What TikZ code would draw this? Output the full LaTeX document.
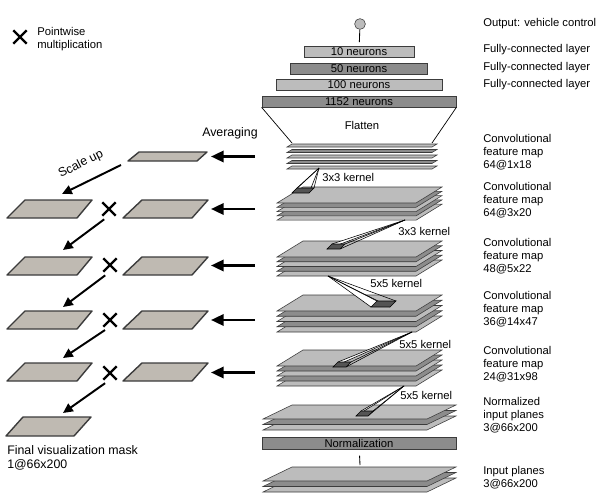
\documentclass[tikz,border=0pt]{standalone}
\usepackage{fontspec}
\setmainfont{Liberation Sans}
\usetikzlibrary{positioning,shapes.misc,arrows.meta}

\definecolor{lite}{HTML}{BCBCBC}
\definecolor{dark}{HTML}{8C8C8C}
\definecolor{maskgray}{HTML}{BFBAB2}
\definecolor{edge}{HTML}{3C3C3C}

\tikzset{
  bar/.style={shape=rectangle,draw=edge,line width=0.5pt,inner sep=0pt,minimum height=0.275cm},
  plane/.style={draw=edge,line width=0.4pt},
  kerncell/.style={fill=dark!60!black,draw=black,line width=0.4pt},
  kernline/.style={draw=black,line width=0.4pt},
  maskbox/.style={fill=maskgray,draw=edge,line width=1pt,line join=round},
  mult/.style={cross out,draw=black,line width=1.6pt,minimum size=0.28cm,inner sep=0pt},
  bigarrow/.style={line width=1.8pt,-{Triangle[length=9pt,width=8pt]}},
  scalearrow/.style={line width=1.4pt,-{Triangle[length=7pt,width=6.5pt]}},
  label/.style={anchor=north west,inner sep=0pt,align=left},
}

\begin{document}
\begin{tikzpicture}[x=0.025cm,y=-0.025cm,font=\fontsize{8}{9.25}\selectfont]
  \fill[white] (0,0) rectangle (600,500);
  \useasboundingbox (0,0) rectangle (600,500);

  % output and fully-connected layers
  \node[shape=circle,draw=edge,fill=lite,minimum size=0.27cm,inner sep=0pt] (out) at (360,24) {};
  \node[bar,fill=lite,minimum width=2.75cm] (fc10) at (359,52) {10 neurons};
  \node[bar,fill=dark,minimum width=3.425cm] (fc50) at (359,68.5) {50 neurons};
  \node[bar,fill=lite,minimum width=4.15cm] (fc100) at (359,84.5) {100 neurons};
  \node[bar,fill=dark,minimum width=4.85cm] (fc1152) at (359,101.5) {1152 neurons};
  \draw[line width=0.6pt,shorten >=0.1cm] (out) -- (fc10);

  % flatten
  \coordinate (fl) at (292,143);
  \coordinate (fr) at (432,143);
  \draw[line width=0.5pt] (fc1152.south west) -- (fl);
  \draw[line width=0.5pt] (fc1152.south east) -- (fr);
  \node (flat) at (362,125) {Flatten};

  % feature map stacks
  \foreach \i/\c in {4/lite,3/dark,2/lite,1/dark,0/lite}
    \filldraw[plane,fill=\c] (287,144+\i*5.5+3) -- (432,144+\i*5.5+3) -- (437,144+\i*5.5) -- (292,144+\i*5.5) -- cycle;
  \foreach \i/\c in {4/lite,3/dark,2/lite,1/dark,0/lite}
    \filldraw[plane,fill=\c] (277,187+\i*4.3+16) -- (416,187+\i*4.3+16) -- (442,187+\i*4.3) -- (303,187+\i*4.3) -- cycle;
  \foreach \i/\c in {4/lite,3/dark,2/lite,1/dark,0/lite}
    \filldraw[plane,fill=\c] (277,241+\i*4.75+16) -- (416,241+\i*4.75+16) -- (442,241+\i*4.75) -- (303,241+\i*4.75) -- cycle;
  \foreach \i/\c in {4/lite,3/dark,2/lite,1/dark,0/lite}
    \filldraw[plane,fill=\c] (277,295+\i*5.25+16) -- (416,295+\i*5.25+16) -- (442,295+\i*5.25) -- (303,295+\i*5.25) -- cycle;
  \foreach \i/\c in {4/lite,3/dark,2/lite,1/dark,0/lite}
    \filldraw[plane,fill=\c] (277,350+\i*5+16) -- (416,350+\i*5+16) -- (442,350+\i*5) -- (303,350+\i*5) -- cycle;
  \foreach \i/\c in {2/lite,1/dark,0/lite}
    \filldraw[plane,fill=\c] (263,405+\i*5.5+14) -- (427,405+\i*5.5+14) -- (456,405+\i*5.5) -- (292,405+\i*5.5) -- cycle;
  \foreach \i/\c in {2/lite,1/dark,0/lite}
    \filldraw[plane,fill=\c] (263,467+\i*5.5+14) -- (427,467+\i*5.5+14) -- (456,467+\i*5.5) -- (292,467+\i*5.5) -- cycle;

  % kernels
  \foreach \ax/\ay/\bx/\by/\w/\s/\h in {319/168/292/193/17/5/5, 405/220/327/249/13/5/5,
      328/276/371/307/19/6/6, 412/332/333/367/13/5/5, 404/386/356/416/12/5/5} {
    \fill[white] (\ax,\ay) -- (\bx,\by) -- (\bx+\w,\by) -- (\bx+\w+\s,\by-\h) -- (\bx+\s,\by-\h) -- cycle;
    \foreach \px/\py in {\bx/\by,\bx+\w/\by,\bx+\w+\s/\by-\h,\bx+\s/\by-\h}
      \draw[kernline] (\ax,\ay) -- (\px,\py);
    \filldraw[kerncell] (\bx,\by) -- (\bx+\w,\by) -- (\bx+\w+\s,\by-\h) -- (\bx+\s,\by-\h) -- cycle;
  }
  \node[anchor=west,inner sep=0pt] (k1) at (322,177) {3x3 kernel};
  \node[anchor=west,inner sep=0pt] (k2) at (398,231) {3x3 kernel};
  \node[anchor=west,inner sep=0pt] (k3) at (370,283) {5x5 kernel};
  \node[anchor=west,inner sep=0pt] (k4) at (399,344) {5x5 kernel};
  \node[anchor=west,inner sep=0pt] (k5) at (400,395) {5x5 kernel};

  % normalization
  \node[bar,fill=dark,minimum width=4.85cm,minimum height=0.29cm] (norm) at (359,443.5) {Normalization};
  \coordinate (inp) at (360,465);
  \draw[line width=0.6pt,shorten <=0.15cm] (norm) -- (inp);

  % layer labels
  \node[anchor=west,inner sep=0pt] (lout) at (483,24) {Output: vehicle control};
  \node[anchor=west,inner sep=0pt] (lfc1) at (483,50) {Fully-connected layer};
  \node[anchor=west,inner sep=0pt] (lfc2) at (483,68) {Fully-connected layer};
  \node[anchor=west,inner sep=0pt] (lfc3) at (483,85) {Fully-connected layer};
  \node[label] (lc5) at (483,134) {Convolutional\\feature map\\64@1x18};
  \node[label] (lc4) at (483,182.5) {Convolutional\\feature map\\64@3x20};
  \node[label] (lc3) at (483,238.5) {Convolutional\\feature map\\48@5x22};
  \node[label] (lc2) at (483,291.5) {Convolutional\\feature map\\36@14x47};
  \node[label] (lc1) at (483,346.5) {Convolutional\\feature map\\24@31x98};
  \node[label] (lnorm) at (483,397.5) {Normalized\\input planes\\3@66x200};
  \node[label] (lin) at (483,466.5) {Input planes\\3@66x200};

  % visualization masks
  \filldraw[maskbox] (128,161) -- (197,161) -- (207,152) -- (139,152) -- cycle;
  \foreach \y in {200,257,311,363} {
    \filldraw[maskbox] (7,\y+18) -- (77,\y+18) -- (92,\y) -- (25,\y) -- cycle;
    \filldraw[maskbox] (123,\y+18) -- (192,\y+18) -- (208,\y) -- (142,\y) -- cycle;
  }
  \filldraw[maskbox] (6,436) -- (74,436) -- (91,417) -- (23,417) -- cycle;

  \coordinate (s0) at (255,156.5);
  \coordinate (s1) at (255,209);
  \coordinate (s2) at (255,265.5);
  \coordinate (s3) at (255,320);
  \coordinate (s4) at (255,372.5);
  \coordinate (e0) at (211,156.5);
  \coordinate (e1) at (211,209);
  \coordinate (e2) at (211,265.5);
  \coordinate (e3) at (211,320);
  \coordinate (e4) at (211,372.5);
  \draw[bigarrow] (s0) -- (e0);
  \draw[bigarrow] (s1) -- (e1);
  \draw[bigarrow] (s2) -- (e2);
  \draw[bigarrow] (s3) -- (e3);
  \draw[bigarrow] (s4) -- (e4);
  \node[font=\fontsize{8.8}{10}\selectfont] (avgtxt) at (230,133) {Averaging};

  \node[mult] (x1) at (109,209) {};
  \node[mult] (x2) at (110,265) {};
  \node[mult] (x3) at (110,320) {};
  \node[mult] (x4) at (110,373) {};

  \coordinate (su) at (121,165);
  \coordinate (t1) at (62,194);
  \coordinate (t2) at (63,250);
  \coordinate (t3) at (63,307);
  \coordinate (t4) at (63,358);
  \coordinate (t5) at (63,413);
  \draw[scalearrow] (su) -- (t1);
  \node[font=\fontsize{8.8}{10}\selectfont,rotate=27] (scale) at (81,164) {Scale up};
  \draw[scalearrow,shorten <=0.15cm] (x1.south) -- (t2);
  \draw[scalearrow,shorten <=0.15cm] (x2.south) -- (t3);
  \draw[scalearrow,shorten <=0.15cm] (x3.south) -- (t4);
  \draw[scalearrow,shorten <=0.15cm] (x4.south) -- (t5);

  \node[label,font=\fontsize{8.8}{10}\selectfont] (lmask) at (7,445) {Final visualization mask\\1@66x200};

  % legend
  \node[mult] (xl) at (20,37) {};
  \node[label] (lmult) at (37,27) {Pointwise\\multiplication};
\end{tikzpicture}
\end{document}
